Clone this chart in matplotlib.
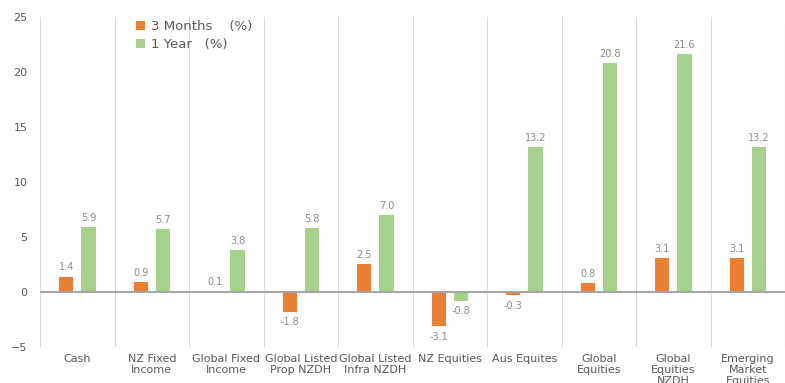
import numpy as np
import matplotlib.pyplot as plt

categories = ['Cash', 'NZ Fixed\nIncome', 'Global Fixed\nIncome', 'Global Listed\nProp NZDH',
              'Global Listed\nInfra NZDH', 'NZ Equities', 'Aus Equites', 'Global\nEquities',
              'Global\nEquities\nNZDH', 'Emerging\nMarket\nEquities']
three_months = [1.4, 0.9, 0.1, -1.8, 2.5, -3.1, -0.3, 0.8, 3.1, 3.1]
one_year = [5.9, 5.7, 3.8, 5.8, 7.0, -0.8, 13.2, 20.8, 21.6, 13.2]

orange = '#ED7D31'
green = '#A9D18E'
text_col = '#595959'
label_col = '#8C8C8C'

fig = plt.figure(figsize=(7.85, 3.83), dpi=100)
ax = fig.add_axes([0.051, 0.094, 0.949, 0.862])

x = np.arange(len(categories))
w = 0.19
off = 0.15
b1 = ax.bar(x - off, three_months, w, color=orange, label='3 Months    (%)', zorder=3)
b2 = ax.bar(x + off, one_year, w, color=green, label='1 Year   (%)', zorder=3)

for bars, vals in ((b1, three_months), (b2, one_year)):
    for b, v in zip(bars, vals):
        cx = b.get_x() + b.get_width() / 2
        if v >= 0:
            ax.annotate(f'{v:.1f}', (cx, v), xytext=(0, 3), textcoords='offset points',
                        ha='center', va='bottom', fontsize=7, color=label_col)
        else:
            ax.annotate(f'{v:.1f}', (cx, v), xytext=(0, -4), textcoords='offset points',
                        ha='center', va='top', fontsize=7, color=label_col)

ax.set_xlim(-0.5, len(categories) - 0.5)
ax.set_ylim(-5, 25)
ax.set_yticks(range(-5, 30, 5))
ax.set_xticks(x)
ax.set_xticklabels(categories, fontsize=8, color=text_col, linespacing=1.1)
ax.tick_params(axis='y', labelsize=8, labelcolor=text_col, length=0, pad=9)
ax.tick_params(axis='x', length=0, pad=5)

for xb in np.arange(-0.5, len(categories), 1.0):
    ax.axvline(xb, color='#D9D9D9', lw=0.8, zorder=1)
ax.axhline(0, color='#A6A6A6', lw=1.5, zorder=4)

for s in ax.spines.values():
    s.set_visible(False)

ax.legend(loc='upper left', bbox_to_anchor=(0.113, 1.025), frameon=False, fontsize=9.5,
          labelcolor=text_col, handlelength=0.7, handleheight=0.7, handletextpad=0.4,
          labelspacing=0.35)

fig.savefig('out.png', dpi=100)
